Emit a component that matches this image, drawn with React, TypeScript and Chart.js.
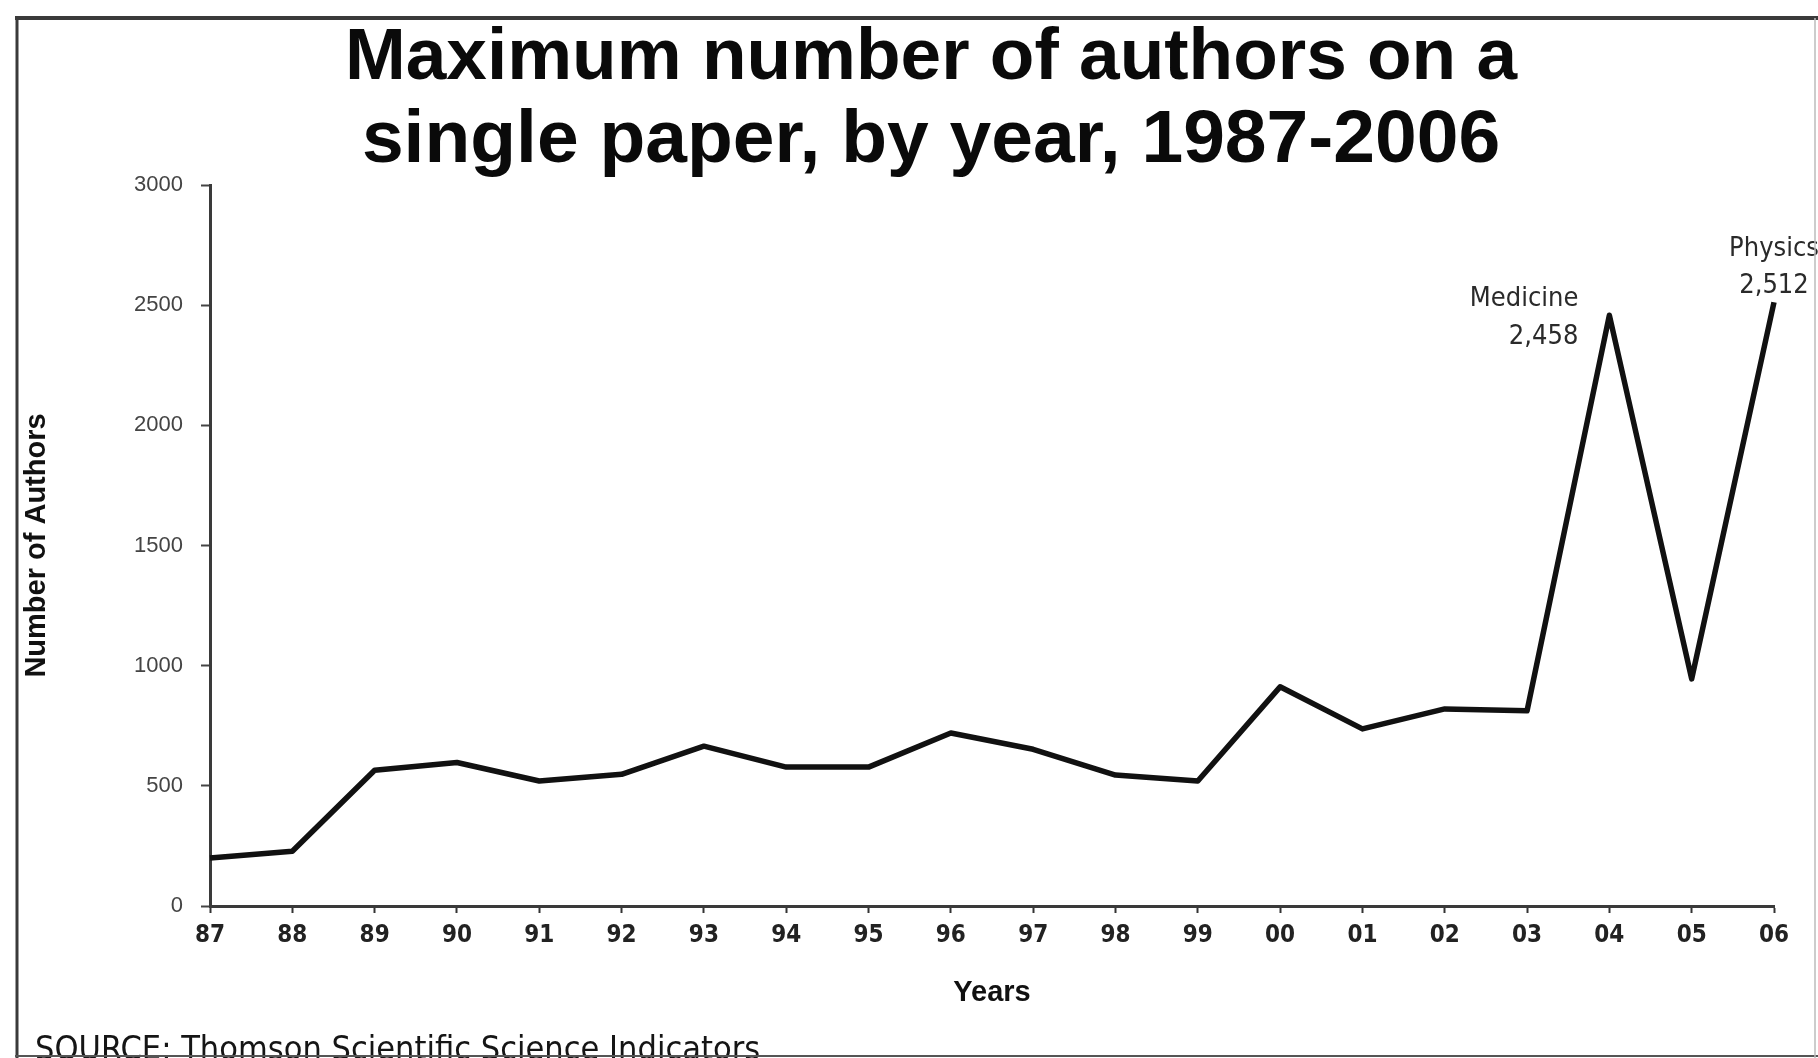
import React, { useEffect, useRef } from 'react';
import { Chart, registerables } from 'chart.js';

Chart.register(...registerables);

// ---- data ----
const years = ['87', '88', '89', '90', '91', '92', '93', '94', '95', '96', '97', '98', '99', '00', '01', '02', '03', '04', '05', '06'];
const maxAuthors = [200, 228, 565, 597, 520, 548, 665, 578, 578, 720, 652, 545, 520, 912, 737, 820, 812, 2458, 945, 2512];
const yTickValues = [0, 500, 1000, 1500, 2000, 2500, 3000];
const titleLines = ['Maximum number of authors on a', 'single paper, by year, 1987-2006'];
const xAxisTitle = 'Years';
const yAxisTitle = 'Number of Authors';
const sourceNote = 'SOURCE: Thomson Scientific Science Indicators';
const calloutYears = ['04', '06'];
const calloutFields = ['Medicine', 'Physics'];

// ---- styles / layout (not data) ----
const SANS = '"Liberation Sans", Arial, sans-serif';
const NARROW = '"Liberation Sans Narrow", "Arial Narrow", "DejaVu Sans Condensed", sans-serif';
const calloutLayout = [
  { align: 'right' as CanvasTextAlign, dx: -31, dy1: -16, dy2: 22 },
  { align: 'center' as CanvasTextAlign, dx: 0, dy1: -53, dy2: -16 },
];

const decorPlugin = {
  id: 'decor',
  afterDraw(chart: any) {
    const ctx: CanvasRenderingContext2D = chart.ctx;
    const xs = chart.scales.x;
    const ys = chart.scales.y;
    ctx.save();
    // title
    ctx.fillStyle = '#0a0a0a';
    ctx.font = `bold 73px ${SANS}`;
    ctx.textAlign = 'center';
    ctx.textBaseline = 'alphabetic';
    ctx.fillText(titleLines[0], 931, 79);
    ctx.font = `bold 75px ${SANS}`;
    ctx.fillText(titleLines[1], 931, 162);

    // callouts
    ctx.fillStyle = '#2a2a2a';
    ctx.font = `27px ${NARROW}`;
    ctx.textBaseline = 'middle';
    calloutYears.forEach((yr, i) => {
      const idx = years.indexOf(yr);
      const px = xs.getPixelForValue(idx);
      const py = ys.getPixelForValue(maxAuthors[idx]);
      const lay = calloutLayout[i];
      ctx.textAlign = lay.align;
      ctx.fillText(calloutFields[i], px + lay.dx, py + lay.dy1);
      ctx.fillText(maxAuthors[idx].toLocaleString('en-US'), px + lay.dx, py + lay.dy2);
    });

    // source note
    ctx.fillStyle = '#151515';
    ctx.font = `34px ${NARROW}`;
    ctx.textAlign = 'left';
    ctx.textBaseline = 'alphabetic';
    ctx.fillText(sourceNote, 35, 1060);

    // frame
    ctx.lineCap = 'butt';
    ctx.strokeStyle = '#3a3a3a';
    ctx.lineWidth = 4;
    ctx.beginPath();
    ctx.moveTo(15, 18);
    ctx.lineTo(1818, 18);
    ctx.stroke();
    ctx.lineWidth = 3;
    ctx.beginPath();
    ctx.moveTo(17, 16);
    ctx.lineTo(17, 1058);
    ctx.stroke();
    ctx.strokeStyle = '#555';
    ctx.lineWidth = 2;
    ctx.beginPath();
    ctx.moveTo(15, 1056);
    ctx.lineTo(1818, 1056);
    ctx.stroke();
    ctx.strokeStyle = '#bbb';
    ctx.lineWidth = 1.5;
    ctx.beginPath();
    ctx.moveTo(1815, 18);
    ctx.lineTo(1815, 1058);
    ctx.stroke();
    ctx.restore();
  },
};

export default function App() {
  const canvasRef = useRef<HTMLCanvasElement | null>(null);

  useEffect(() => {
    document.body.style.margin = '0';
    document.body.style.overflow = 'hidden';
    document.body.style.background = '#fff';
    const canvas = canvasRef.current;
    if (!canvas) return;
    const chart = new Chart(canvas, {
      type: 'line',
      data: {
        labels: years,
        datasets: [
          {
            label: 'Maximum number of authors',
            data: maxAuthors,
            borderColor: '#111',
            borderWidth: 5.5,
            pointRadius: 0,
            tension: 0,
            fill: false,
            clip: false as any,
            borderJoinStyle: 'round',
          },
        ],
      },
      options: {
        responsive: false,
        animation: false,
        layout: { padding: { top: 185, left: 0, right: 44, bottom: 0 } },
        plugins: {
          legend: { display: false },
          title: { display: false },
          tooltip: { enabled: false },
        },
        scales: {
          x: {
            type: 'category',
            offset: false,
            grid: { drawOnChartArea: false, drawTicks: true, tickLength: 7, tickWidth: 2, tickColor: '#333' },
            border: { display: true, color: '#3a3a3a', width: 3 },
            ticks: {
              color: '#222',
              font: { family: NARROW, size: 24, weight: 'bold' },
              padding: 8,
              maxRotation: 0,
              autoSkip: false,
            },
            title: {
              display: true,
              text: xAxisTitle,
              color: '#111',
              font: { family: SANS, size: 29, weight: 'bold' },
              padding: { top: 0, bottom: 48 },
            },
            afterFit: (scale: any) => {
              scale.height = 152;
            },
          },
          y: {
            type: 'linear',
            min: 0,
            max: 3000,
            afterBuildTicks: (scale: any) => {
              scale.ticks = yTickValues.map((v) => ({ value: v }));
            },
            grid: { drawOnChartArea: false, drawTicks: true, tickLength: 9, tickWidth: 2, tickColor: '#444' },
            border: { display: true, color: '#3a3a3a', width: 3 },
            ticks: {
              color: '#444',
              font: { family: SANS, size: 22 },
              padding: 18,
              callback: (v: any) => String(v),
            },
            title: {
              display: true,
              text: yAxisTitle,
              color: '#111',
              font: { family: SANS, size: 29, weight: 'bold' },
              padding: { top: 20, bottom: 0 },
            },
            afterFit: (scale: any) => {
              scale.width = 210;
            },
          },
        },
      },
      plugins: [decorPlugin],
    });
    return () => chart.destroy();
  }, []);

  return (
    <div style={{ width: 1818, height: 1058, position: 'relative' }}>
      <canvas ref={canvasRef} width={1818} height={1058} style={{ display: 'block' }} />
    </div>
  );
}
